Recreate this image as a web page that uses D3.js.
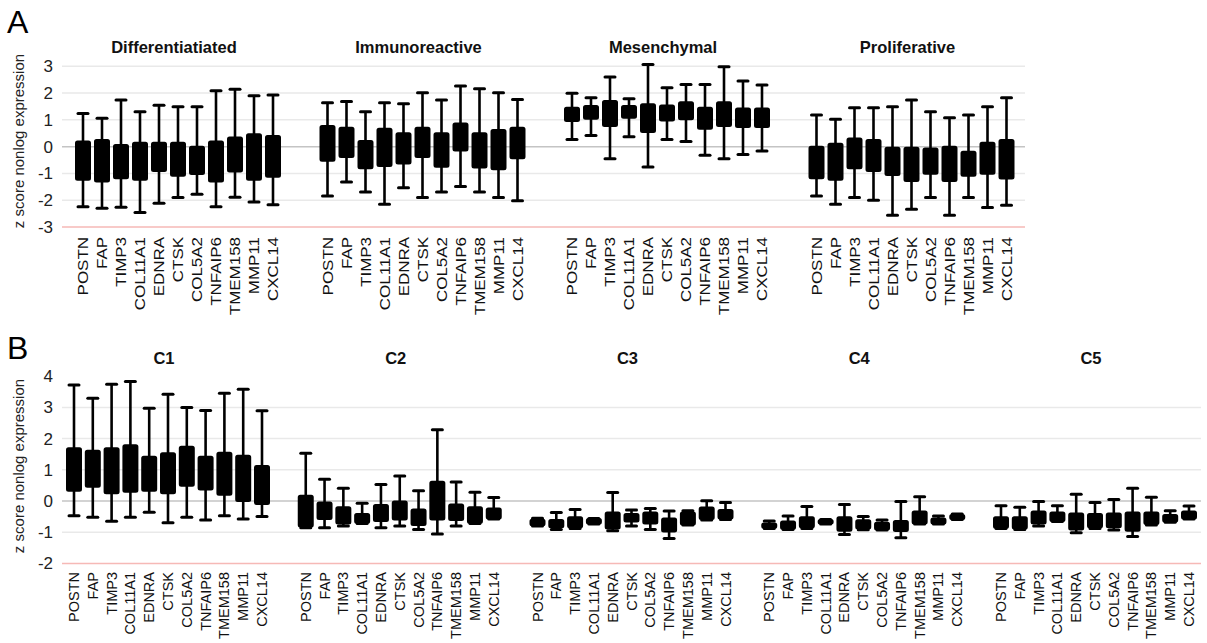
<!DOCTYPE html>
<html>
<head>
<meta charset="utf-8">
<script src="https://cdn.jsdelivr.net/npm/d3@7"></script>
<style>
  html, body { margin: 0; padding: 0; background: #fff; }
  svg { display: block; font-family: "Liberation Sans", Arial, sans-serif; }
</style>
</head>
<body>
<svg id="chart" width="1207" height="643"></svg>
<script>
// ---------- DATA ----------
const genes = ["POSTN","FAP","TIMP3","COL11A1","EDNRA","CTSK","COL5A2","TNFAIP6","TMEM158","MMP11","CXCL14"];

const groupsA = ["Differentiatiated","Immunoreactive","Mesenchymal","Proliferative"];
const ticksA = [-3,-2,-1,0,1,2,3];
// per group: [min, q1, q3, max] for each gene
const differentiatedMin = [-2.24,-2.30,-2.26,-2.46,-2.11,-1.90,-1.78,-2.24,-1.89,-2.07,-2.17];
const differentiatedQ1  = [-1.24,-1.30,-1.18,-1.24,-0.91,-1.09,-1.02,-1.30,-0.93,-1.24,-1.12];
const differentiatedQ3  = [ 0.19, 0.25, 0.06, 0.15, 0.15, 0.15, 0.00, 0.19, 0.34, 0.46, 0.40];
const differentiatedMax = [ 1.24, 1.06, 1.74, 1.30, 1.55, 1.49, 1.49, 2.09, 2.14, 1.90, 1.93];

const immunoreactiveMin = [-1.84,-1.32,-1.69,-2.15,-1.53,-1.90,-1.69,-1.49,-1.69,-1.90,-2.02];
const immunoreactiveQ1  = [-0.53,-0.39,-0.81,-0.72,-0.63,-0.39,-0.75,-0.14,-0.78,-0.84,-0.43];
const immunoreactiveQ3  = [ 0.77, 0.71, 0.21, 0.67, 0.50, 0.71, 0.50, 0.86, 0.50, 0.62, 0.71];
const immunoreactiveMax = [ 1.64, 1.69, 1.30, 1.64, 1.60, 2.01, 1.74, 2.26, 2.16, 2.01, 1.76];

const mesenchymalMin = [ 0.27, 0.42,-0.45, 0.37,-0.76, 0.27, 0.19,-0.32,-0.45,-0.29,-0.16];
const mesenchymalQ1  = [ 0.96, 1.04, 0.77, 1.08, 0.55, 0.98, 1.02, 0.67, 0.77, 0.73, 0.73];
const mesenchymalQ3  = [ 1.45, 1.52, 1.70, 1.52, 1.58, 1.54, 1.66, 1.45, 1.66, 1.42, 1.42];
const mesenchymalMax = [ 1.99, 1.83, 2.60, 1.79, 3.07, 2.20, 2.32, 2.32, 2.98, 2.45, 2.30];

const proliferativeMin = [-1.84,-2.15,-1.90,-2.00,-2.56,-2.34,-1.90,-2.56,-1.90,-2.27,-2.19];
const proliferativeQ1  = [-1.18,-1.24,-0.81,-0.91,-1.06,-1.28,-1.01,-1.28,-1.09,-1.01,-1.19];
const proliferativeQ3  = [ 0.00, 0.11, 0.30, 0.25,-0.04,-0.04,-0.07, 0.00,-0.19, 0.15, 0.25];
const proliferativeMax = [ 1.18, 1.02, 1.45, 1.45, 1.49, 1.74, 1.30, 1.08, 1.18, 1.49, 1.83];

const groupsB = ["C1","C2","C3","C4","C5"];
const ticksB = [-2,-1,0,1,2,3,4];

const c1Min = [-0.47,-0.52,-0.65,-0.52,-0.36,-0.70,-0.52,-0.61,-0.47,-0.58,-0.50];
const c1Q1  = [ 0.33, 0.46, 0.25, 0.30, 0.33, 0.25, 0.49, 0.37, 0.20, 0.00,-0.10];
const c1Q3  = [ 1.69, 1.61, 1.69, 1.79, 1.42, 1.53, 1.74, 1.42, 1.55, 1.45, 1.12];
const c1Max = [ 3.72, 3.29, 3.74, 3.83, 2.97, 3.42, 3.00, 2.90, 3.45, 3.58, 2.89];

const c2Min = [-0.86,-0.86,-0.80,-0.72,-0.86,-0.80,-0.91,-1.06,-0.80,-0.72,-0.58];
const c2Q1  = [-0.82,-0.58,-0.72,-0.70,-0.64,-0.59,-0.77,-0.59,-0.61,-0.70,-0.56];
const c2Q3  = [ 0.17,-0.05,-0.20,-0.42,-0.13,-0.02,-0.27, 0.62,-0.11,-0.20,-0.24];
const c2Max = [ 1.53, 0.70, 0.41,-0.07, 0.53, 0.80, 0.33, 2.28, 0.61, 0.28, 0.11];

const c3Min = [-0.80,-0.91,-0.88,-0.74,-0.95,-0.80,-0.91,-1.20,-0.77,-0.61,-0.59];
const c3Q1  = [-0.78,-0.84,-0.84,-0.72,-0.88,-0.66,-0.72,-0.98,-0.75,-0.58,-0.56];
const c3Q3  = [-0.60,-0.61,-0.52,-0.58,-0.37,-0.42,-0.37,-0.56,-0.37,-0.21,-0.29];
const c3Max = [-0.55,-0.37,-0.27,-0.56, 0.27,-0.29,-0.24,-0.32,-0.31, 0.01,-0.05];

const c4Min = [-0.88,-0.91,-0.88,-0.74,-1.07,-0.92,-0.93,-1.18,-0.74,-0.74,-0.59];
const c4Q1  = [-0.86,-0.89,-0.84,-0.72,-0.95,-0.88,-0.91,-0.96,-0.72,-0.72,-0.58];
const c4Q3  = [-0.72,-0.66,-0.52,-0.61,-0.52,-0.62,-0.70,-0.64,-0.34,-0.56,-0.45];
const c4Max = [-0.64,-0.48,-0.18,-0.59,-0.11,-0.50,-0.61,-0.02, 0.14,-0.48,-0.42];

const c5Min = [-0.88,-0.91,-0.80,-0.66,-1.02,-0.88,-0.93,-1.14,-0.77,-0.68,-0.58];
const c5Q1  = [-0.86,-0.88,-0.72,-0.64,-0.91,-0.84,-0.84,-0.95,-0.74,-0.66,-0.56];
const c5Q3  = [-0.52,-0.52,-0.34,-0.37,-0.40,-0.42,-0.40,-0.37,-0.37,-0.45,-0.34];
const c5Max = [-0.15,-0.20,-0.02,-0.15, 0.22,-0.05, 0.05, 0.41, 0.12,-0.31,-0.16];

// ---------- BUILD ----------
function rows(min, q1, q3, max) {
  return genes.map((g, i) => ({ gene: g, min: min[i], q1: q1[i], q3: q3[i], max: max[i] }));
}
const panelAData = [
  rows(differentiatedMin, differentiatedQ1, differentiatedQ3, differentiatedMax),
  rows(immunoreactiveMin, immunoreactiveQ1, immunoreactiveQ3, immunoreactiveMax),
  rows(mesenchymalMin, mesenchymalQ1, mesenchymalQ3, mesenchymalMax),
  rows(proliferativeMin, proliferativeQ1, proliferativeQ3, proliferativeMax)
];
const panelBData = [
  rows(c1Min, c1Q1, c1Q3, c1Max),
  rows(c2Min, c2Q1, c2Q3, c2Max),
  rows(c3Min, c3Q1, c3Q3, c3Max),
  rows(c4Min, c4Q1, c4Q3, c4Max),
  rows(c5Min, c5Q1, c5Q3, c5Max)
];

const svg = d3.select("#chart");
const FONT = "'Liberation Sans', Arial, sans-serif";

function drawPanel(cfg) {
  const { letter, letterY, groups, data, ticks, yDomain, yRange, groupRange, geneSpan,
          gridRight, titleY, ylabelY, labelTop, topGrid, labelScale } = cfg;
  const y = d3.scaleLinear().domain(yDomain).range(yRange);
  const xg = d3.scalePoint().domain(groups).range(groupRange);
  const xi = d3.scalePoint().domain(genes).range([0, geneSpan]);
  const g = svg.append("g");
  const plotLeft = 62;

  // panel letter
  g.append("text").attr("x", 7).attr("y", letterY)
    .attr("font-size", 32).attr("font-family", FONT).attr("fill", "#000").text(letter);

  // gridlines
  const gridTicks = ticks.filter(t => t <= topGrid);
  g.append("g").selectAll("line").data(gridTicks).join("line")
    .attr("x1", plotLeft).attr("x2", gridRight)
    .attr("y1", d => y(d)).attr("y2", d => y(d))
    .attr("stroke", d => d === yDomain[0] ? "#f6b9b6" : (d === 0 ? "#c4c4c4" : "#e9e9e9"))
    .attr("stroke-width", 1.5);

  // y axis using d3 axis (labels only)
  const ax = g.append("g").attr("transform", `translate(${plotLeft - 9},0)`)
    .call(d3.axisLeft(y).tickValues(ticks).tickSize(0).tickPadding(0)
      .tickFormat(d => d < 0 ? "-" + Math.abs(d) : String(d)));
  ax.select(".domain").remove();
  ax.selectAll("text").attr("font-size", 17).attr("font-family", FONT).attr("fill", "#222");

  // y label
  g.append("text")
    .attr("transform", `translate(24,${ylabelY}) rotate(-90)`)
    .attr("text-anchor", "middle").attr("font-size", 15).attr("font-family", FONT)
    .attr("fill", "#222").text("z score nonlog expression");

  groups.forEach((grp, gi) => {
    const gx = xg(grp);
    const gg = g.append("g").attr("transform", `translate(${gx},0)`);
    // title
    gg.append("text").attr("x", geneSpan / 2 - 4).attr("y", titleY)
      .attr("text-anchor", "middle").attr("font-size", 16.5).attr("font-weight", "bold")
      .attr("font-family", FONT).attr("fill", "#111").text(grp);

    const bw = 14, cw = 10;
    const box = gg.selectAll("g.box").data(data[gi]).join("g").attr("class", "box")
      .attr("transform", d => `translate(${xi(d.gene)},0)`);
    box.append("line").attr("x1", 0).attr("x2", 0)
      .attr("y1", d => y(d.max)).attr("y2", d => y(d.min))
      .attr("stroke", "#000").attr("stroke-width", 2.6);
    box.append("line").attr("x1", -cw / 2).attr("x2", cw / 2)
      .attr("y1", d => y(d.max)).attr("y2", d => y(d.max))
      .attr("stroke", "#000").attr("stroke-width", 3).attr("stroke-linecap", "round");
    box.append("line").attr("x1", -cw / 2).attr("x2", cw / 2)
      .attr("y1", d => y(d.min)).attr("y2", d => y(d.min))
      .attr("stroke", "#000").attr("stroke-width", 3).attr("stroke-linecap", "round");
    box.append("rect").attr("x", -bw / 2).attr("width", bw)
      .attr("y", d => y(d.q3)).attr("height", d => Math.max(1, y(d.q1) - y(d.q3)))
      .attr("fill", "#000").attr("stroke", "#000").attr("stroke-width", 2)
      .attr("stroke-linejoin", "round").attr("rx", 1.5);

    // gene labels
    gg.selectAll("text.gl").data(genes).join("text").attr("class", "gl")
      .attr("transform", d => `translate(${xi(d) + 5},${labelTop}) rotate(-90) scale(${labelScale},1)`)
      .attr("text-anchor", "end").attr("font-size", 14.5).attr("font-family", FONT)
      .attr("fill", "#111").text(d => d);
  });
}

drawPanel({
  letter: "A", letterY: 33,
  groups: groupsA, data: panelAData, ticks: ticksA,
  yDomain: [-3, 3], yRange: [227, 66.3],
  groupRange: [83, 816.5], geneSpan: 190,
  gridRight: 1025, titleY: 53, ylabelY: 141, labelTop: 237, topGrid: 3, labelScale: 1.17
});

drawPanel({
  letter: "B", letterY: 359,
  groups: groupsB, data: panelBData, ticks: ticksB,
  yDomain: [-2, 4], yRange: [563.4, 376.2],
  groupRange: [74, 1001], geneSpan: 188,
  gridRight: 1201, titleY: 364, ylabelY: 466, labelTop: 572, topGrid: 3, labelScale: 1.0
});
</script>
</body>
</html>
